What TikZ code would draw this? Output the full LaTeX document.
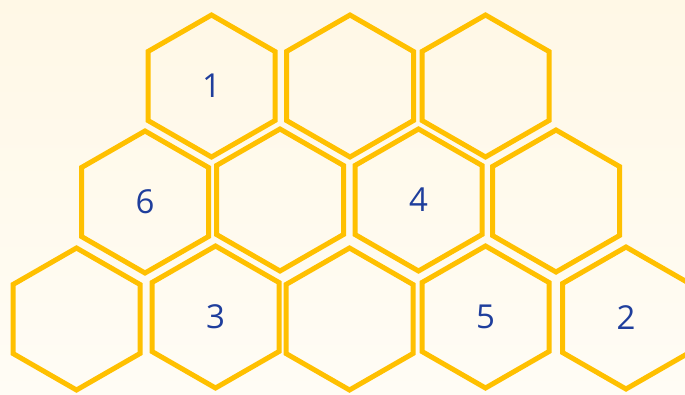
\documentclass[tikz,border=0pt]{standalone}
\usepackage{fontspec}
\setmainfont{Open Sans}
\definecolor{hexc}{HTML}{FFC000}
\definecolor{txtc}{HTML}{1F3E9C}
\definecolor{bgtop}{HTML}{FFF8E6}
\definecolor{bgbot}{HTML}{FFFCF5}
\tikzset{
  hexline/.style={draw=hexc,line width=5pt,line join=miter},
  lbl/.style={text=txtc,font=\fontsize{33}{38}\selectfont,inner sep=0pt}
}
\newcommand{\hexcell}[4]{%
  \begin{scope}[shift={(#1,-#2)}]
    \draw[hexline] (0,71) -- (63.5,34.5) -- (63.5,-34.5) -- (0,-71) -- (-63.5,-34.5) -- (-63.5,34.5) -- cycle;
    \node[lbl] (#3) at (0,0) {#4};
  \end{scope}}
\begin{document}
\begin{tikzpicture}[x=1pt,y=1pt]
\shade[top color=bgtop,bottom color=bgbot] (0,0) rectangle (685,-394);
\useasboundingbox (0,0) rectangle (685,-394);
% row 1
\hexcell{211.5}{86}{a1}{1}
\hexcell{350}{86}{a2}{}
\hexcell{485.5}{86}{a3}{}
% row 2
\hexcell{145}{202}{b1}{6}
\hexcell{280}{200}{b2}{}
\hexcell{418.5}{200}{b3}{4}
\hexcell{556}{201}{b4}{}
% row 3
\hexcell{76.5}{319}{c1}{}
\hexcell{215.5}{317}{c2}{3}
\hexcell{349.5}{319}{c3}{}
\hexcell{485.5}{317}{c4}{5}
\hexcell{626}{318}{c5}{2}
\end{tikzpicture}
\end{document}
